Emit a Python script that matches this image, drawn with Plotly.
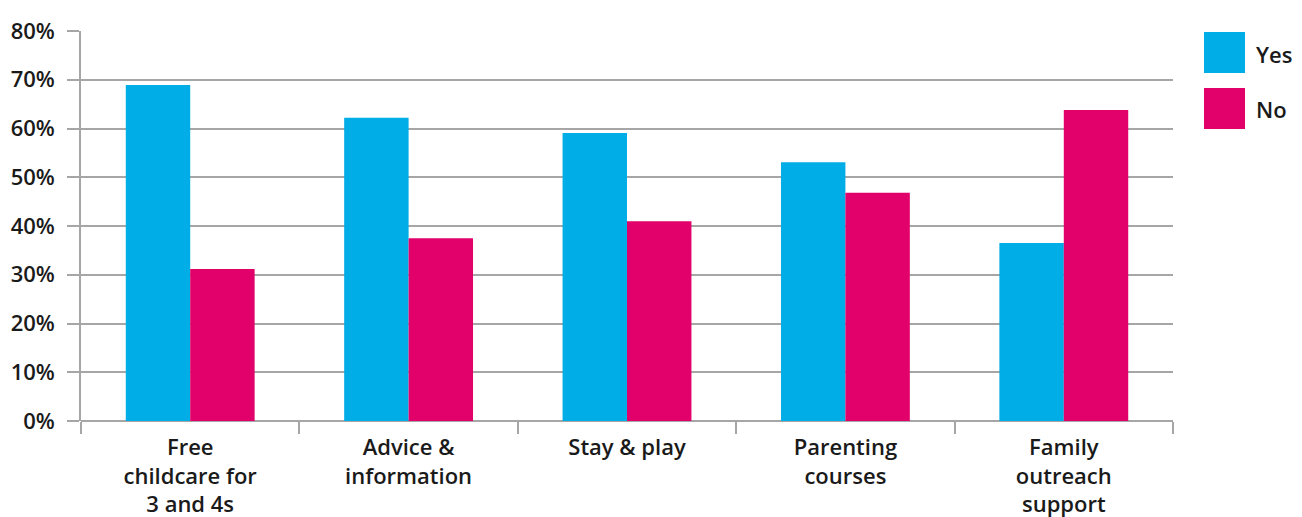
import plotly.graph_objects as go

categories = ["Free<br>childcare for<br>3 and 4s", "Advice &<br>information", "Stay & play",
              "Parenting<br>courses", "Family<br>outreach<br>support"]
yes_values = [68.9, 62.2, 59.1, 53.1, 36.5]
no_values = [31.2, 37.5, 41.0, 46.8, 63.8]
series_names = ["Yes", "No"]
colors = ["#00ade6", "#e2006b"]
y_ticks = [0, 10, 20, 30, 40, 50, 60, 70, 80]
y_tick_labels = [f"{v}%" for v in y_ticks]

FONT = "Open Sans"
GRID = "#a6a6a6"
TXT = "#1a1a1a"
FSIZE = 22
WEIGHT = 600

# page body has an 8px margin; compensate so the plot lands where the reference has it
OFF = 8
L, R, T, B = 81 - OFF, 129, 31 - OFF, 96
PW, PH = 1092, 390

fig = go.Figure()
for name, vals, col in zip(series_names, [yes_values, no_values], colors):
    fig.add_trace(go.Bar(x=categories, y=vals, name=name, marker_color=col,
                         marker_line_width=0, showlegend=False))

fig.update_layout(
    width=L + PW + R, height=T + PH + B,
    margin=dict(l=L, r=R, t=T, b=B, autoexpand=False),
    paper_bgcolor="white", plot_bgcolor="white",
    barmode="group", bargap=0.41, bargroupgap=0,
    font=dict(family=FONT, size=FSIZE, color=TXT, weight=WEIGHT),
    xaxis=dict(
        type="category", tickson="boundaries", ticks="outside", ticklen=12,
        tickcolor=GRID, tickwidth=1.5, showline=False, showgrid=False,
        tickfont=dict(family=FONT, size=FSIZE, color=TXT, weight=WEIGHT),
        ticklabelstandoff=11, automargin=False,
    ),
    yaxis=dict(
        range=[0, 80], tickvals=y_ticks, ticktext=y_tick_labels,
        ticks="outside", ticklen=12, tickcolor=GRID, tickwidth=1.5,
        showgrid=True, gridcolor=GRID, gridwidth=1.5,
        showline=True, linecolor=GRID, linewidth=1.5,
        zeroline=True, zerolinecolor=GRID, zerolinewidth=1.5,
        tickfont=dict(family=FONT, size=FSIZE, color=TXT, weight=WEIGHT),
        ticklabelstandoff=8, automargin=False,
    ),
)

# Legend drawn as shapes + text (paper coords, target-image pixel positions)
def px(x):
    return (x - 81) / PW
def py(y):
    return 1 - (y - 31) / PH

legend_rows = [(32, 73), (88, 129)]
for (y0, y1), name, col in zip(legend_rows, series_names, colors):
    fig.add_shape(type="rect", xref="paper", yref="paper",
                  x0=px(1204), x1=px(1245), y0=py(y1), y1=py(y0),
                  fillcolor=col, line_width=0)
    fig.add_annotation(xref="paper", yref="paper", x=px(1254), y=py((y0 + y1) / 2 + 1),
                       text=name, showarrow=False, xanchor="left", yanchor="middle",
                       font=dict(family=FONT, size=FSIZE, color=TXT, weight=WEIGHT))

fig.write_html("out.html")
